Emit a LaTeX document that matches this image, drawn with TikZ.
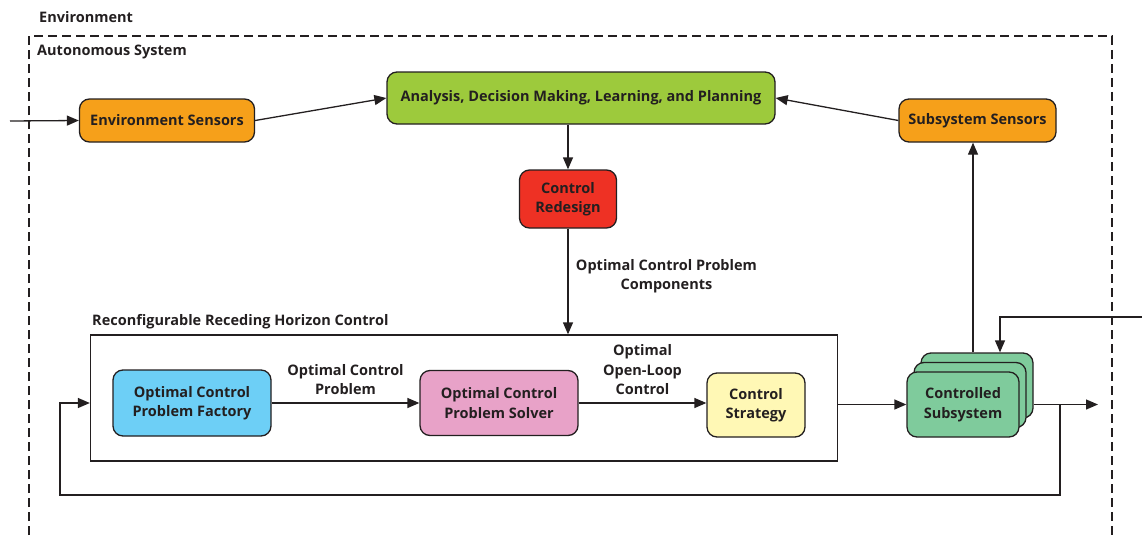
\documentclass[tikz,border=0pt]{standalone}
\usepackage{fontspec}
\setmainfont{Open Sans}
\usetikzlibrary{arrows.meta}
\definecolor{ink}{HTML}{231F20}
\definecolor{sensorfill}{HTML}{F6A01A}
\definecolor{plannerfill}{HTML}{9DCA3C}
\definecolor{redesignfill}{HTML}{EE3124}
\definecolor{factoryfill}{HTML}{6DCFF6}
\definecolor{solverfill}{HTML}{E8A2C8}
\definecolor{strategyfill}{HTML}{FFF8B5}
\definecolor{plantfill}{HTML}{7FCB9C}
\begin{document}
\begin{tikzpicture}[x=1pt,y=-1pt,
  font=\bfseries\fontsize{14.5}{19.5}\selectfont,
  box/.style={draw=ink, line width=1.3pt, rounded corners=10pt, text=ink,
    align=center, inner sep=0pt},
  frame/.style={draw=ink, line width=1.3pt},
  arr/.style={draw=ink, line width=1.3pt, -{Triangle[length=12pt,width=10pt]}},
  lbl/.style={text=ink, align=center},
  title/.style={text=ink, anchor=west, inner sep=0pt}]
\useasboundingbox (0,0) rectangle (1142,535);

% outer environment / autonomous system frame
\node[title] (envlbl) at (39,17) {Environment};
\draw[ink, line width=1.3pt, dash pattern=on 9pt off 5pt]
  (29,535) -- (29,36) -- (1112,36) -- (1112,535);
\node[title] (aslbl) at (37,52) {Autonomous System};

% upper row
\node[box, fill=sensorfill, minimum width=175pt, minimum height=43pt] (envs) at (167,120.5) {Environment Sensors};
\node[box, fill=plannerfill, minimum width=388pt, minimum height=52pt] (adl) at (581,98) {Analysis, Decision Making, Learning, and Planning};
\node[box, fill=sensorfill, minimum width=157pt, minimum height=43pt] (subs) at (977.5,120.5) {Subsystem Sensors};
\node[box, fill=redesignfill, minimum width=97pt, minimum height=58pt] (cr) at (568,199) {Control\\Redesign};

% receding horizon control block
\node[frame, minimum width=747pt, minimum height=126pt, inner sep=0pt] (rrhc) at (464,398) {};
\node[title] (rrhclbl) at (92,322) {Reconfigurable Receding Horizon Control};
\node[box, fill=factoryfill, minimum width=158pt, minimum height=66pt] (fac) at (192,403) {Optimal Control\\Problem Factory};
\node[box, fill=solverfill, minimum width=158pt, minimum height=65pt] (sol) at (499,403) {Optimal Control\\Problem Solver};
\node[box, fill=strategyfill, minimum width=98pt, minimum height=64pt] (strat) at (756,405) {Control\\Strategy};

% controlled subsystem (stacked copies)
\node[box, fill=plantfill, minimum width=112pt, minimum height=65pt] (ctrl3) at (977,385.5) {};
\node[box, fill=plantfill, minimum width=112pt, minimum height=65pt] (ctrl2) at (970,395) {};
\node[box, fill=plantfill, minimum width=112pt, minimum height=65pt] (ctrl1) at (963,404.5) {Controlled\\Subsystem};

% connectors
\coordinate (inL) at (10,121);
\draw[arr] (inL) -- (envs.west);
\draw[arr] (envs.east) -- (adl.west);
\draw[arr] (subs.west) -- (adl.east);
\draw[arr] (cr.north |- adl.south) -- (cr.north);
\draw[arr] (cr.south) -- node[lbl, right=4pt, pos=0.45] {Optimal Control Problem\\Components} (cr.south |- rrhc.north);
\draw[arr] (fac.east) -- node[lbl, above=4pt] {Optimal Control\\Problem} (sol.west);
\draw[arr] (sol.east) -- node[lbl, above=4pt] {Optimal\\Open-Loop\\Control} (sol.east -| strat.west);
\draw[arr] (rrhc.east |- ctrl1.west) -- (ctrl1.west);
\draw[arr] ([xshift=-4pt]ctrl3.north) -- ([xshift=-4pt]ctrl3.north |- subs.south);
\coordinate (inR) at (1142,317);
\draw[arr] (inR) -| ([xshift=23pt]ctrl3.north);
\coordinate (outR) at (1098,404.5);
\draw[arr] (ctrl3.east |- ctrl1.east) -- (outR);
\coordinate (tap) at (1060,404.5);
\coordinate (fbB) at (60,495);
\draw[arr] (tap) |- (fbB) |- ([yshift=-5pt]rrhc.west);
\end{tikzpicture}
\end{document}
